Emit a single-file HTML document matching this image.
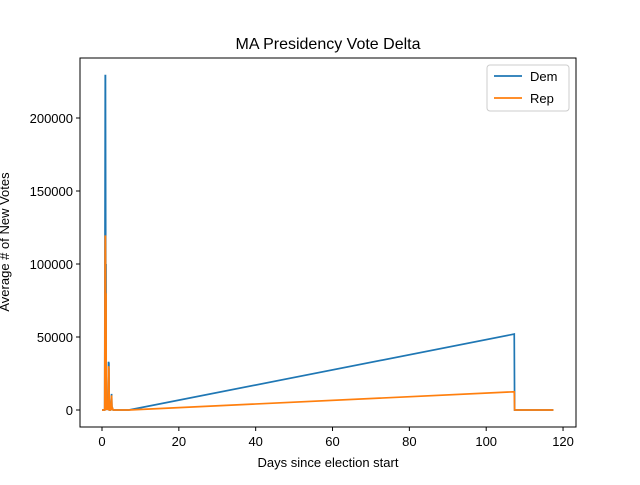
<!DOCTYPE html>
<html><head><meta charset="utf-8"><style>
body{margin:0;background:#fff}
svg{font-family:"Liberation Sans","DejaVu Sans",sans-serif}
</style></head><body>
<svg id="chart" width="640" height="480">
<rect width="640" height="480" fill="#fff"/>
<text x="328" y="49" font-size="16" text-anchor="middle">MA Presidency Vote Delta</text>
<g id="plot"></g>
<rect x="80" y="58" width="496" height="369" fill="none" stroke="#000" stroke-width="1"/>
<g id="xt"></g><g id="yt"></g>
<text x="328" y="467" font-size="13" text-anchor="middle">Days since election start</text>
<text transform="translate(9,242) rotate(-90)" font-size="13" text-anchor="middle">Average # of New Votes</text>
<g>
<rect x="487" y="65" width="82" height="46" rx="3" fill="#fff" stroke="#ccc"/>
<line x1="494" y1="76" x2="522" y2="76" stroke="#1f77b4" stroke-width="1.7"/>
<text x="530" y="81" font-size="13">Dem</text>
<line x1="494" y1="98" x2="522" y2="98" stroke="#ff7f0e" stroke-width="1.7"/>
<text x="530" y="103" font-size="13">Rep</text>
</g>
</svg>
<script>
const demDays=[0,0.7,0.8,0.85,0.9,1.0,1.05,1.1,1.3,1.5,1.7,1.8,1.9,2.2,2.5,2.6,2.7,2.9,3.5,7,107.3,107.4,117.5];
const demVals=[0,0,150000,229000,229000,60000,100000,0,5000,0,33000,32000,0,0,11000,0,1500,0,0,0,52000,0,0];
const repDays=[0,0.7,0.8,0.85,0.9,1.0,1.05,1.1,1.3,1.5,1.7,1.8,1.9,2.2,2.5,2.6,2.7,2.9,3.5,7,107.3,107.4,117.5];
const repVals=[0,0,100000,119000,119000,40000,80000,0,3000,0,30000,28000,0,0,10000,0,1500,0,0,0,12500,0,0];
const xTicks=[0,20,40,60,80,100,120];
const yTicks=[0,50000,100000,150000,200000];
const X=d=>102+d*3.842, Y=v=>410-v*0.00146;
const NS="http://www.w3.org/2000/svg";
const plot=document.getElementById('plot');
function line(days,vals,color,name){
  const p=document.createElementNS(NS,'polyline');
  p.setAttribute('points',days.map((d,i)=>X(d)+','+Y(vals[i])).join(' '));
  p.setAttribute('fill','none');p.setAttribute('stroke',color);p.setAttribute('stroke-width','1.7');
  
  
  plot.appendChild(p);
}
line(demDays,demVals,'#1f77b4','dem-line');
line(repDays,repVals,'#ff7f0e','rep-line');
const xt=document.getElementById('xt');
xTicks.forEach(t=>{
  const g=document.createElementNS(NS,'g');
  
  
  g.innerHTML=`<line x1="${X(t)}" y1="427" x2="${X(t)}" y2="431" stroke="#000"/><text x="${X(t)}" y="446" font-size="13" text-anchor="middle">${t}</text>`;
  xt.appendChild(g);
});
const yt=document.getElementById('yt');
yTicks.forEach(t=>{
  const g=document.createElementNS(NS,'g');
  
  
  g.innerHTML=`<line x1="76" y1="${Y(t)}" x2="80" y2="${Y(t)}" stroke="#000"/><text x="73" y="${Y(t)+5}" font-size="13" text-anchor="end">${t}</text>`;
  yt.appendChild(g);
});
</script>
</body></html>
